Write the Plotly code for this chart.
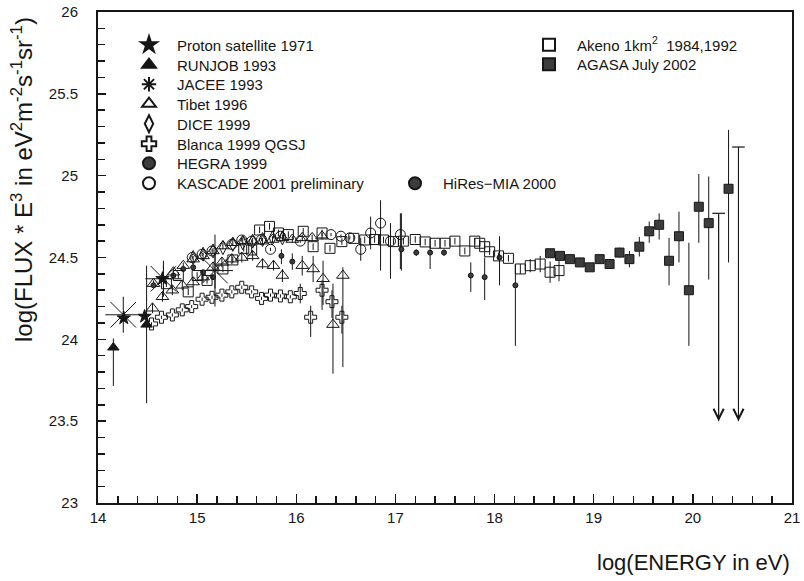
import plotly.graph_objects as go

# ---------------- data (log10 E [eV], log10 flux*E^3) ----------------
proton_x = [14.26, 14.47, 14.65]
proton_y = [24.13, 24.14, 24.37]

runjob_x = [14.155, 14.49]
runjob_y = [23.95, 24.09]
runjob_ep = [0.055, 0.36]
runjob_em = [0.235, 0.48]

jacee_x = [14.255, 14.66, 15.18]
jacee_y = [24.15, 24.37, 24.42]
jacee_ep = [0.0, 0.08, 0.22]
jacee_em = [0.0, 0.08, 0.22]

tibet_x = [14.55, 14.65, 14.75, 14.85, 14.96, 15.06, 15.16, 15.25, 15.35, 15.45, 15.56,
           15.66, 15.77, 15.86, 16.06, 16.17, 16.27, 16.37, 16.47,
           14.56, 14.76, 14.86, 14.96, 15.06, 15.16, 15.26, 15.36, 15.46, 15.56, 15.66,
           15.76, 15.86, 15.96, 16.06, 16.16, 16.26]
tibet_y = [24.19, 24.26, 24.30, 24.33, 24.35, 24.38, 24.44, 24.47, 24.49, 24.50, 24.51,
           24.46, 24.45, 24.39, 24.45, 24.43, 24.37, 24.09, 24.39,
           24.34, 24.41, 24.45, 24.49, 24.51, 24.54, 24.57, 24.59, 24.60, 24.60, 24.60,
           24.61, 24.62, 24.61, 24.62, 24.62, 24.63]
tibet_ep = [0.03] * 13 + [0.04, 0.06, 0.08, 0.11, 0.25, 0.05] + [0.02] * 17
tibet_em = [0.03] * 13 + [0.04, 0.06, 0.08, 0.16, 0.30, 0.56] + [0.02] * 17

dice_x = [14.96, 15.06, 15.16, 15.26, 15.36, 15.46, 15.56, 15.66, 15.76, 15.86]
dice_y = [24.50, 24.52, 24.54, 24.56, 24.58, 24.59, 24.60, 24.61, 24.62, 24.62]

blanca_x = [14.54, 14.64, 14.75, 14.85, 14.945, 15.05, 15.15, 15.25, 15.35, 15.45, 15.55,
            15.65, 15.74, 15.84, 15.94, 16.04, 16.145, 16.26, 16.36, 16.46]
blanca_y = [24.094, 24.135, 24.149, 24.18, 24.20, 24.245, 24.257, 24.27, 24.29, 24.318, 24.29,
            24.25, 24.27, 24.265, 24.26, 24.28, 24.135, 24.30, 24.23, 24.135]
blanca_ep = [0.01] * 15 + [0.06, 0.07, 0.06, 0.07, 0.07]
blanca_em = [0.01] * 15 + [0.06, 0.12, 0.12, 0.10, 0.10]

hegra_x = [14.56, 14.76, 14.86, 14.96, 15.06, 15.16]
hegra_y = [24.33, 24.39, 24.43, 24.44, 24.41, 24.38]

kascade_x = [14.95, 15.05, 15.15, 15.35, 15.45, 15.55, 15.65, 15.74, 15.84, 16.04, 16.35,
             16.45, 16.54, 16.65, 16.75, 16.85, 16.95, 17.05]
kascade_y = [24.50, 24.52, 24.54, 24.58, 24.607, 24.60, 24.61, 24.55, 24.63, 24.60, 24.64,
             24.63, 24.62, 24.55, 24.65, 24.71, 24.60, 24.64]
kascade_ep = [0.01] * 13 + [0.07, 0.10, 0.14, 0.11, 0.13]
kascade_em = [0.01] * 13 + [0.07, 0.10, 0.29, 0.23, 0.21]

hires_x = [15.85, 15.96, 17.06, 17.21, 17.35, 17.49, 17.76, 17.90, 18.05, 18.21]
hires_y = [24.51, 24.475, 24.55, 24.53, 24.53, 24.53, 24.39, 24.38, 24.50, 24.33]
hires_ep = [0.04, 0.05, 0.22, 0.02, 0.04, 0.02, 0.08, 0.12, 0.13, 0.13]
hires_em = [0.05, 0.05, 0.13, 0.02, 0.10, 0.02, 0.10, 0.14, 0.17, 0.37]

akeno_x = [14.69, 14.81, 14.91, 15.00, 15.10, 15.26, 15.36, 15.47, 15.55, 15.63, 15.73, 15.82,
           15.92, 16.07, 16.17, 16.26, 16.34, 16.46, 16.58, 16.69, 16.79, 16.88, 16.98, 17.08,
           17.20, 17.30, 17.40, 17.50, 17.60, 17.70, 17.80, 17.85, 17.90, 17.95, 18.04, 18.14,
           18.26, 18.36, 18.46, 18.56, 18.65]
akeno_y = [24.34, 24.39, 24.29, 24.39, 24.36, 24.43, 24.485, 24.556, 24.546, 24.668, 24.69, 24.65,
           24.64, 24.66, 24.566, 24.65, 24.556, 24.597, 24.617, 24.607, 24.61, 24.607, 24.597, 24.60,
           24.61, 24.595, 24.587, 24.587, 24.60, 24.54, 24.60, 24.587, 24.566, 24.535, 24.51, 24.495,
           24.43, 24.45, 24.46, 24.41, 24.42]
akeno_err = [0.02] * 36 + [0.03, 0.04, 0.05, 0.065, 0.065]

agasa_x = [18.56, 18.66, 18.76, 18.86, 18.96, 19.06, 19.16, 19.26, 19.36, 19.46, 19.56, 19.66,
           19.76, 19.86, 19.96, 20.06, 20.16, 20.36]
agasa_y = [24.526, 24.51, 24.49, 24.47, 24.44, 24.49, 24.46, 24.53, 24.49, 24.566, 24.66, 24.70,
           24.48, 24.63, 24.30, 24.81, 24.71, 24.92]
agasa_ep = [0.02, 0.02, 0.02, 0.02, 0.02, 0.02, 0.03, 0.03, 0.05, 0.06, 0.06, 0.07,
            0.14, 0.15, 0.29, 0.20, 0.285, 0.36]
agasa_em = [0.02, 0.02, 0.02, 0.02, 0.02, 0.02, 0.03, 0.03, 0.05, 0.06, 0.07, 0.09,
            0.15, 0.16, 0.34, 0.22, 0.345, 0.45]

# AGASA upper limits
limit_x = [20.26, 20.46]
limit_top = [24.77, 25.175]
limit_bottom = [23.5, 23.5]

FONT = "Liberation Sans, Arial, sans-serif"
INK = "#161616"
FILL = "#3c3c3c"

fig = go.Figure()


def add(name, x, y, symbol, size, legend, ep=None, em=None, color=INK,
        lcolor=INK, lw=1.0, showlegend=True):
    tr = dict(x=x, y=y, mode="markers", name=name, legend=legend, showlegend=showlegend,
              marker=dict(symbol=symbol, size=size, color=color,
                          line=dict(color=lcolor, width=lw)))
    if ep is not None:
        tr["error_y"] = dict(type="data", symmetric=False, array=ep, arrayminus=em,
                             color=INK, thickness=1, width=0)
    fig.add_trace(go.Scatter(**tr))


add("Proton satellite 1971", proton_x, proton_y, "star", 10, "legend")
add("RUNJOB 1993", runjob_x, runjob_y, "triangle-up", 10, "legend2", runjob_ep, runjob_em)
add("JACEE 1993", jacee_x, jacee_y, "asterisk-open", 30, "legend3", jacee_ep, jacee_em)
add("Tibet 1996", tibet_x, tibet_y, "triangle-up-open", 11, "legend4", tibet_ep, tibet_em)
add("DICE 1999", dice_x, dice_y, "diamond-tall-open", 10, "legend5")
add("Blanca 1999 QGSJ", blanca_x, blanca_y, "cross-open", 10, "legend6", blanca_ep, blanca_em)
add("HEGRA 1999", hegra_x, hegra_y, "circle", 5, "legend7", color=FILL)
add("KASCADE 2001 preliminary", kascade_x, kascade_y, "circle-open", 10, "legend8",
    kascade_ep, kascade_em)
add("HiRes\u2212MIA 2000", hires_x, hires_y, "circle", 5, "legend9", hires_ep, hires_em,
    color=FILL)
add("Akeno 1km<sup>2</sup>  1984,1992", akeno_x, akeno_y, "square-open", 10, "legend10",
    akeno_err, akeno_err)
add("AGASA July 2002", agasa_x, agasa_y, "square", 9, "legend11", agasa_ep, agasa_em,
    color=FILL)

# upper limits: bar at the top + line with open arrow head
add("limits", limit_x, limit_top, "line-ew-open", 9, "legend11",
    [0, 0], [t - b for t, b in zip(limit_top, limit_bottom)], showlegend=False, lw=1.2)
for xv, top, bot in zip(limit_x, limit_top, limit_bottom):
    fig.add_annotation(x=xv, y=bot, ax=xv, ay=top, xref="x", yref="y", axref="x", ayref="y",
                       showarrow=True, arrowhead=5, arrowsize=2.0, arrowwidth=1,
                       arrowcolor=INK, text="")

# legends (one per entry, positioned like the original)
left_rows = [45, 65, 84.5, 104, 124, 144, 163.5, 183.5]
PX_L, PX_T, PW, PH = 98, 12, 694, 491


def px2paper(px, py):
    return (px - PX_L) / PW, 1 - (py - PX_T) / PH


legends = {}
for i, row in enumerate(left_rows):
    legends["legend" if i == 0 else f"legend{i + 1}"] = px2paper(147 - 26, row)
legends["legend9"] = px2paper(413 - 26, 183.5)
legends["legend10"] = px2paper(547 - 26, 45)
legends["legend11"] = px2paper(547 - 26, 64.5)

lay = {}
for key, (lx, ly) in legends.items():
    lay[key] = dict(x=lx, y=ly, xanchor="left", yanchor="middle", bgcolor="rgba(0,0,0,0)",
                    borderwidth=0, itemsizing="constant", itemwidth=46,
                    font=dict(family=FONT, size=15, color=INK))

fig.update_layout(**lay)

fig.update_layout(
    template="none",
    width=804, height=581,
    margin=dict(l=PX_L, r=804 - PX_L - PW, t=PX_T, b=581 - PX_T - PH, autoexpand=False),
    paper_bgcolor="white", plot_bgcolor="white",
    font=dict(family=FONT, size=15, color=INK),
    xaxis=dict(range=[14, 21], tick0=14, dtick=1, ticks="inside", ticklen=9, tickwidth=1.5,
               tickcolor=INK, minor=dict(dtick=0.2, ticks="inside", ticklen=7, tickwidth=1.5,
                                         tickcolor=INK),
               showline=True, linewidth=2, linecolor=INK, mirror=True, showgrid=False,
               zeroline=False, automargin=False,
               tickfont=dict(size=15, family=FONT, color=INK)),
    yaxis=dict(range=[23, 26], tick0=23, dtick=0.5, ticks="inside", ticklen=8, tickwidth=1.5,
               tickcolor=INK, minor=dict(dtick=0.1, ticks="inside", ticklen=7, tickwidth=1.5,
                                         tickcolor=INK),
               showline=True, linewidth=2, linecolor=INK, mirror=True, showgrid=False,
               zeroline=False, automargin=False, ticksuffix="\u2003",
               tickfont=dict(size=15, family=FONT, color=INK)),
)

fig.add_annotation(text="log(ENERGY in eV)", xref="paper", yref="paper", x=1.0, y=-0.122,
                   xanchor="right", yanchor="middle", showarrow=False,
                   font=dict(family=FONT, size=22, color=INK))
fig.add_annotation(text="log(FLUX * E<sup>3</sup> in eV<sup>2</sup>m<sup>-2</sup>s<sup>-1</sup>sr<sup>-1</sup>)",
                   xref="paper", yref="paper", x=(22 - PX_L) / PW, y=1 - (180 - PX_T) / PH,
                   xanchor="center", yanchor="middle", textangle=-90, showarrow=False,
                   font=dict(family=FONT, size=24, color=INK))

fig.write_html("out.html", config={"displayModeBar": False, "staticPlot": True},
               post_script="document.body.style.margin='0';")
